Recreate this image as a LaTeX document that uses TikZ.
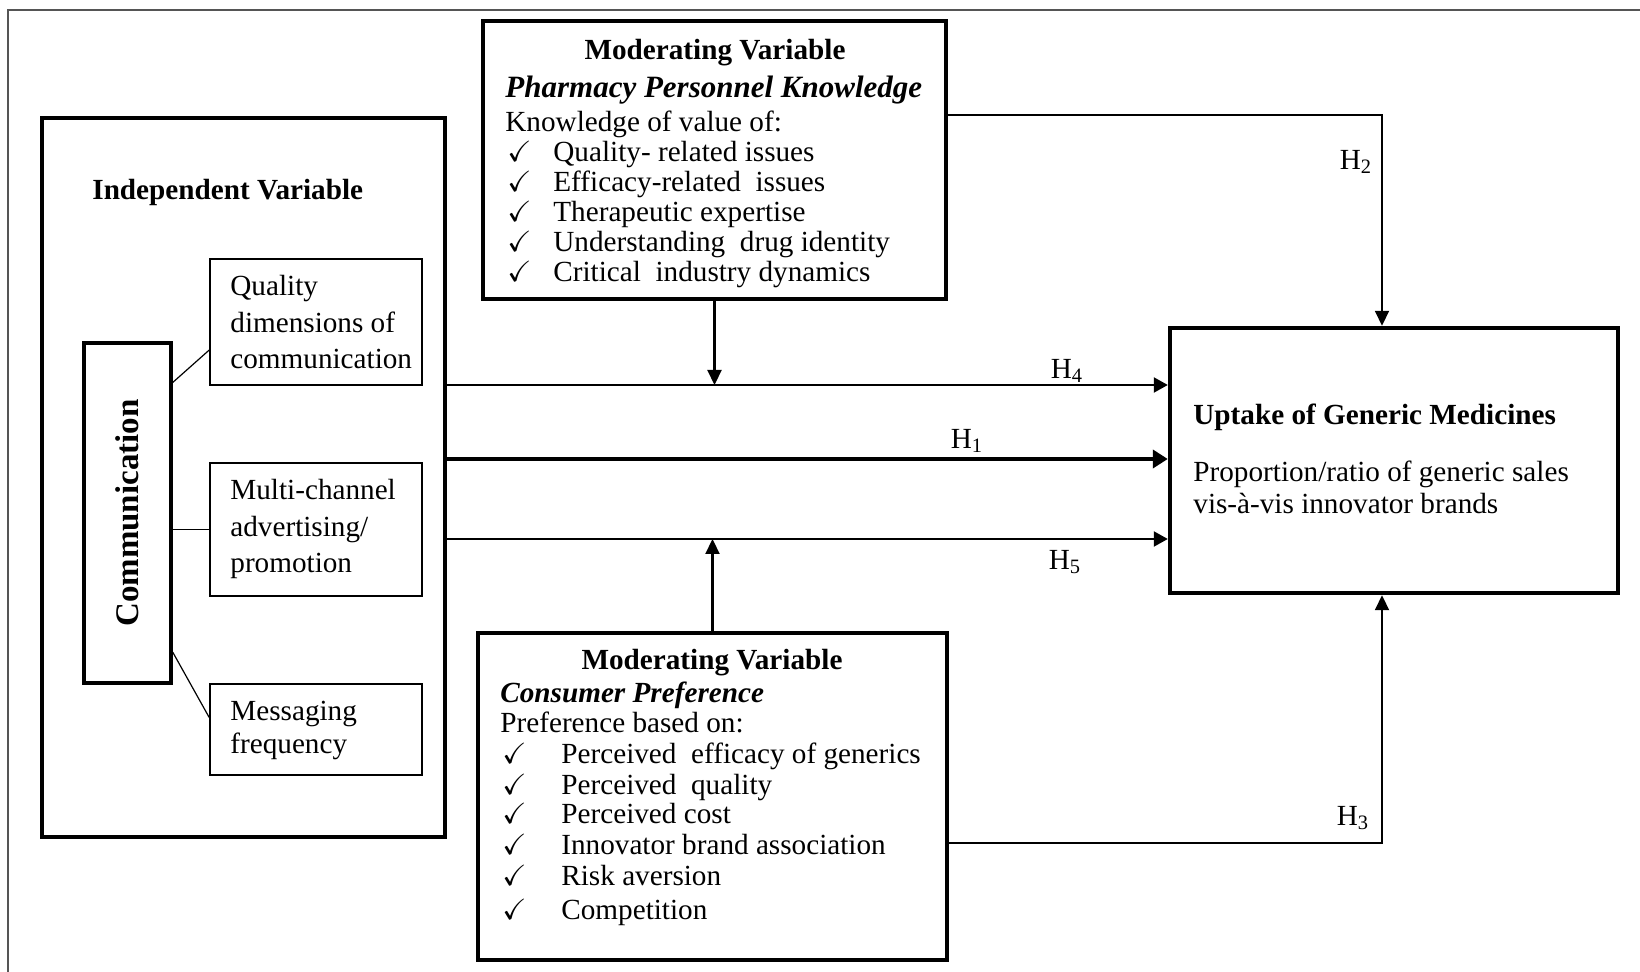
\documentclass[tikz,border=0pt]{standalone}
\usepackage{amssymb}
\usepackage{fontspec}
\setmainfont{Liberation Serif}
\usetikzlibrary{calc,arrows.meta}
\definecolor{framegray}{RGB}{85,85,85}
\newcommand{\basefont}{\fontsize{14.6}{15}\selectfont}

\begin{document}
\begin{tikzpicture}[x=0.5pt, y=-0.5pt,
  every node/.style={font=\basefont},
  bigbox/.style={draw, line width=2.2pt, inner sep=0pt},
  subbox/.style={draw, line width=0.8pt, inner sep=0pt},
  commbox/.style={draw, line width=1.7pt, inner sep=0pt},
  txt/.style={anchor=base west, inner sep=0pt},
  hlab/.style={inner sep=0pt},
  link/.style={line width=0.6pt},
  arr/.style={line width=1.1pt, -{Triangle[length=7pt, width=7.5pt]}},
  thickarr/.style={line width=2.4pt, -{Triangle[length=7.5pt, width=9pt]}},
  modarr/.style={line width=1.1pt, -{Triangle[length=7.5pt, width=7pt]}},
  harr/.style={line width=0.9pt, -{Triangle[length=7.5pt, width=7pt]}}]
  \useasboundingbox (0,0) rectangle (1640,972);
  \draw[framegray, line width=1pt] (8,972) -- (8,10) -- (1640,10);

  % independent variable
  \node[bigbox, minimum width=201.5pt, minimum height=359.5pt] (iv) at (243.5,477.5) {};
  \node[txt] (ivtitle) at (92,200) {\textbf{Independent Variable}};
  \node[commbox, minimum width=43.5pt, minimum height=170pt] (comm) at (127.5,513) {};
  \node[rotate=90, inner sep=0pt, font=\fontsize{16.5}{18}\selectfont\bfseries] (commtxt) at (comm.center) {Communication};
  \node[subbox, minimum width=106pt, minimum height=63pt] (qual) at (316,322) {};
  \node[subbox, minimum width=106pt, minimum height=66.5pt] (multi) at (316,529.5) {};
  \node[subbox, minimum width=106pt, minimum height=45.5pt] (msg) at (316,729.5) {};
  \node[txt] (qual1) at (230,296) {Quality};
  \node[txt] (qual2) at (230,333) {dimensions of};
  \node[txt] (qual3) at (230,369) {communication};
  \node[txt] (multi1) at (230,500) {Multi-channel};
  \node[txt] (multi2) at (230,537) {advertising/};
  \node[txt] (multi3) at (230,573) {promotion};
  \node[txt] (msg1) at (230,721) {Messaging};
  \node[txt] (msg2) at (230,754) {frequency};
  \draw[link] ($(comm.north east)!0.12!(comm.south east)$) -- ($(qual.north west)!0.72!(qual.south west)$);
  \draw[link] (multi.west -| comm.east) -- (multi.west);
  \draw[link] ($(comm.north east)!0.905!(comm.south east)$) -- ($(msg.north west)!0.37!(msg.south west)$);

  % pharmacy personnel knowledge
  \node[bigbox, minimum width=231.5pt, minimum height=139pt] (pk) at (714.5,160) {};
  \node[anchor=base, inner sep=0pt] (pkhead) at (715,60) {\textbf{Moderating Variable}};
  \node[txt, font=\fontsize{15.5}{16}\selectfont] (pkname) at (505,98) {\textbf{\textit{Pharmacy Personnel Knowledge}}};
  \node[txt] (pkintro) at (505,132) {Knowledge of value of:};
  \foreach \itm [count=\i] in {Quality- related issues, Efficacy-related\ \ issues,
      Therapeutic expertise, Understanding\ \ drug identity, Critical\ \ industry dynamics}{
    \node[txt] (pkc\i) at (507,132+30*\i) {$\checkmark$};
    \node[txt] (pk\i) at (553,132+30*\i) {\itm};
  }

  % consumer preference
  \node[bigbox, minimum width=234.5pt, minimum height=163.5pt] (cp) at (712.5,796.5) {};
  \node[anchor=base, inner sep=0pt] (cphead) at (712,670) {\textbf{Moderating Variable}};
  \node[txt] (cpname) at (500,703) {\textbf{\textit{Consumer Preference}}};
  \node[txt] (cpintro) at (500,733) {Preference based on:};
  \foreach \yy/\itm [count=\i] in {764/Perceived\ \ efficacy of generics, 795/Perceived\ \ quality,
      824/Perceived cost, 855/Innovator brand association, 885/Risk aversion, 920/Competition}{
    \node[txt] (cpc\i) at (502,\yy) {$\checkmark$};
    \node[txt] (cp\i) at (561,\yy) {\itm};
  }

  % uptake
  \node[bigbox, minimum width=224pt, minimum height=132.5pt] (up) at (1394,460.5) {};
  \node[txt] (uptitle) at (1193,425) {\textbf{Uptake of Generic Medicines}};
  \node[txt] (up1) at (1193,482) {Proportion/ratio of generic sales};
  \node[txt] (up2) at (1193,514) {vis-\`a-vis innovator brands};

  % hypotheses
  \coordinate (h4) at (0,385);
  \coordinate (h1) at (0,459);
  \coordinate (h5) at (0,539);
  \coordinate (h2turn) at (1382,115);
  \coordinate (h3turn) at (1382,843);
  \draw[arr] (iv.east |- h4) -- (up.west |- h4);
  \draw[thickarr] (iv.east |- h1) -- (up.west |- h1);
  \draw[arr] (iv.east |- h5) -- (up.west |- h5);
  \draw[modarr] (pk.south) -- (pk.south |- h4);
  \draw[modarr] (cp.north) -- (cp.north |- h5);
  \draw[harr] (pk.east |- h2turn) -- (h2turn) -- (up.north -| h2turn);
  \draw[harr] (cp.east |- h3turn) -- (h3turn) -- (up.south -| h3turn);
  \node[hlab] (lh4) at (1067,371) {H\textsubscript{4}};
  \node[hlab] (lh1) at (967,441) {H\textsubscript{1}};
  \node[hlab] (lh5) at (1065,562) {H\textsubscript{5}};
  \node[hlab] (lh2) at (1356,162) {H\textsubscript{2}};
  \node[hlab] (lh3) at (1353,818) {H\textsubscript{3}};
\end{tikzpicture}
\end{document}
